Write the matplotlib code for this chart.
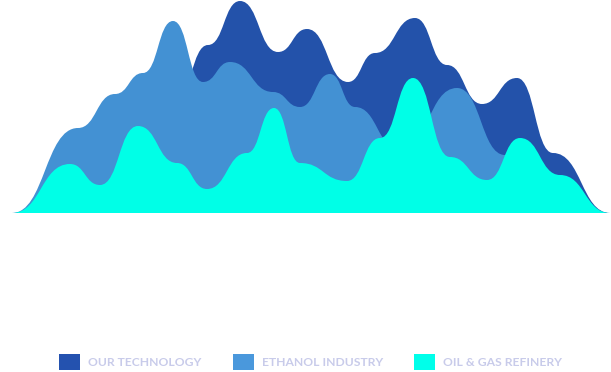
import matplotlib
matplotlib.use("Agg")
import matplotlib.pyplot as plt
from matplotlib.path import Path
from matplotlib.patches import PathPatch, Patch

# x: horizontal position (0..598), y: height above baseline (0..213)
tech_x = [0, 88, 163, 196, 228, 266, 295, 336, 363, 403, 435, 470, 505, 541, 598]
tech_y = [0, 53, 113, 168, 212, 161, 184, 131, 160, 195, 148, 109, 135, 60, 0]

ethanol_x = [0, 66, 103, 131, 161, 191, 218, 261, 288, 318, 343, 388, 445, 493, 548, 598]
ethanol_y = [0, 85, 119, 140, 192, 131, 151, 121, 106, 139, 106, 63, 125, 58, 28, 0]

oil_x = [0, 58, 88, 126, 165, 195, 235, 262, 288, 335, 368, 401, 438, 475, 508, 548, 598]
oil_y = [0, 49, 28, 87, 50, 24, 60, 105, 50, 32, 75, 135, 56, 33, 75, 38, 0]

series = [
    ("OUR TECHNOLOGY", tech_x, tech_y, "#2352AA", "#2452AF"),
    ("ETHANOL INDUSTRY", ethanol_x, ethanol_y, "#4391D3", "#4A98DC"),
    ("OIL & GAS REFINERY", oil_x, oil_y, "#00FFE7", "#00FFEA"),
]


def bump_path(xs, ys):
    verts = [(xs[0], 0), (xs[0], ys[0])]
    codes = [Path.MOVETO, Path.LINETO]
    for i in range(len(xs) - 1):
        xm = (xs[i] + xs[i + 1]) / 2
        verts += [(xm, ys[i]), (xm, ys[i + 1]), (xs[i + 1], ys[i + 1])]
        codes += [Path.CURVE4] * 3
    verts += [(xs[-1], 0), (xs[0], 0)]
    codes += [Path.LINETO, Path.CLOSEPOLY]
    return Path(verts, codes)


fig = plt.figure(figsize=(6.11, 3.72), dpi=100)
ax = fig.add_axes([12 / 611, (372 - 213) / 372, 598 / 611, 213 / 372])
ax.set_xlim(0, 598)
ax.set_ylim(0, 213)
ax.axis("off")

for name, xs, ys, fc, lc in series:
    ax.add_patch(PathPatch(bump_path(xs, ys), facecolor=fc, edgecolor="none"))

handles = [Patch(facecolor=lc, edgecolor="none", label=name) for name, xs, ys, fc, lc in series]
leg = fig.legend(handles=handles, loc="center", bbox_to_anchor=(310.5 / 611, 1 - 362 / 372),
                 ncol=3, frameon=False, prop={"family": "Lato", "size": 8.7, "weight": "bold"},
                 handlelength=1.74, handleheight=1.74, handletextpad=0.66, columnspacing=2.62,
                 borderpad=0, borderaxespad=0)
for t in leg.get_texts():
    t.set_color("#C8CBEA")

fig.savefig("out.png", dpi=100)
